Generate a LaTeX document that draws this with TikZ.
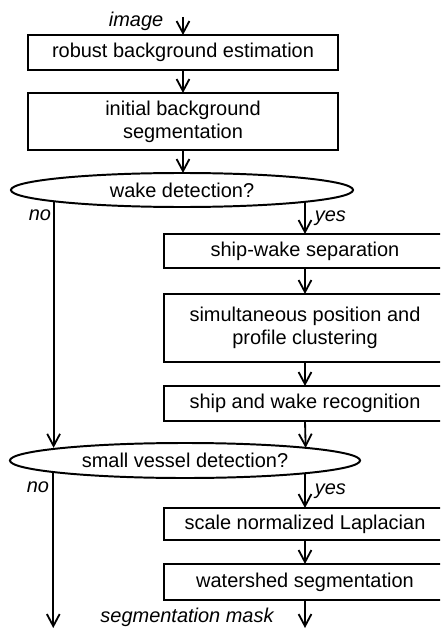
\documentclass[tikz,border=0pt]{standalone}
\usepackage{fontspec}
\setmainfont{Liberation Sans}
\usetikzlibrary{arrows.meta, positioning, shapes.geometric, calc}

\begin{document}
\begin{tikzpicture}[
    x=0.025cm, y=-0.025cm,
    >={Straight Barb[length=0.3cm, width=0.32cm]},
    every node/.style={font=\fontsize{14.2}{16.5}\selectfont, outer sep=0pt},
    proc/.style={draw, line width=1.4pt, rectangle, align=center, inner sep=0pt},
    leftbox/.style={proc, minimum width=7.75cm},
    rightbox/.style={proc, minimum width=7.05cm},
    query/.style={draw, line width=1.4pt, ellipse, inner sep=0pt},
    flow/.style={line width=1.3pt, ->},
    lbl/.style={font=\fontsize{14.2}{16.5}\selectfont\itshape},
]
\useasboundingbox (0,0) rectangle (440,630);
\clip (0,0) rectangle (440,630);

% Main column
\node[leftbox, minimum height=0.875cm] (robust) at (183,52.5) {robust background estimation};
\node[leftbox, minimum height=1.425cm] (init)   at (183,121.5) {initial background\\segmentation};
\node[query, minimum width=8.55cm, minimum height=0.85cm] (wake) at (182,190) {wake detection?};

% Wake branch
\node[rightbox, minimum height=0.85cm]  (sep)   at (305,251)   {ship-wake separation};
\node[rightbox, minimum height=1.7cm]   (clust) at (305,328)   {simultaneous position and\\profile clustering};
\node[rightbox, minimum height=0.875cm] (recog) at (305,403.5) {ship and wake recognition};

\node[query, minimum width=8.75cm, minimum height=0.875cm] (vessel) at (185,460.5) {small vessel detection?};

% Small vessel branch
\node[rightbox, minimum height=0.8cm] (lap)   at (305,524) {scale normalized Laplacian};
\node[rightbox, minimum height=0.9cm] (water) at (305,582) {watershed segmentation};

% Input and outputs
\coordinate (in)   at (183,17);
\coordinate (outL) at (61,628);
\coordinate (outR) at (305,628);

\node[lbl, anchor=east] at (168,21) {image};
\node[lbl] at (187,617) {segmentation mask};

% Connectors
\draw[flow] (in) -- (robust.north);
\draw[flow] (robust.south) -- (init.north);
\draw[flow] (init.south) -- (init.south |- wake.north);

\draw[flow] (sep.north |- wake.354.5) -- (sep.north)
      node[lbl, midway, right=0.13cm] {yes};
\draw[flow] (wake.185.7) -- (wake.185.7 |- vessel.174.3);
\node[lbl] at (40,215) {no};

\draw[flow] (sep.south) -- (clust.north);
\draw[flow] (clust.south) -- (recog.north);
\draw[flow] (recog.south) -- (vessel.6.1);

\draw[flow] (lap.north |- vessel.353.9) -- (lap.north)
      node[lbl, midway, right=0.13cm] {yes};
\draw[flow] (vessel.185.7) -- (vessel.185.7 |- outL);
\node[lbl] at (38,487) {no};

\draw[flow] (lap.south) -- (water.north);
\draw[flow] (water.south) -- (outR);

\end{tikzpicture}
\end{document}
